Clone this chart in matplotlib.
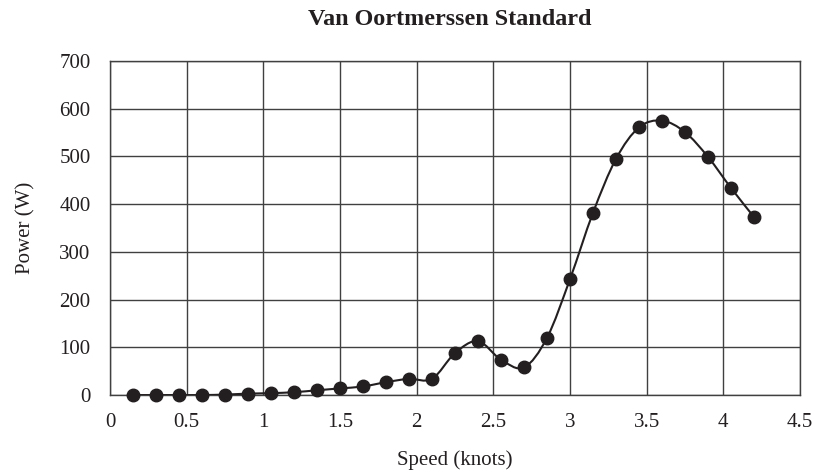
import numpy as np
import matplotlib.pyplot as plt
from matplotlib.path import Path
from matplotlib.patches import PathPatch

speed = [0.15, 0.30, 0.45, 0.60, 0.75, 0.90, 1.05, 1.20, 1.35, 1.50,
         1.65, 1.80, 1.95, 2.10, 2.25, 2.40, 2.55, 2.70, 2.85, 3.00,
         3.15, 3.30, 3.45, 3.60, 3.75, 3.90, 4.05, 4.20]
power = [0, 0, 0, 0, 1, 3, 4, 6, 10, 14,
         18, 27, 34, 34, 88, 113, 74, 58, 120, 243,
         382, 495, 561, 575, 551, 499, 434, 373]

x_ticks = [0, 0.5, 1, 1.5, 2, 2.5, 3, 3.5, 4, 4.5]
x_labels = ["0", "0.5", "1", "1.5", "2", "2.5", "3", "3.5", "4", "4.5"]
y_ticks = [0, 100, 200, 300, 400, 500, 600, 700]

ink = "#231f20"
grid_col = "#404040"

plt.rcParams["font.family"] = ["Liberation Serif", "DejaVu Serif"]

fig = plt.figure(figsize=(8.15, 4.72), dpi=100)
ax = fig.add_axes([0.135, 0.163, 0.8466, 0.7077])


def smooth_path(xs, ys):
    # Excel-style smoothed line: cubic Bezier segments, Catmull-Rom control points
    pts = np.column_stack([xs, ys]).astype(float)
    n = len(pts)
    verts = [pts[0]]
    codes = [Path.MOVETO]
    for i in range(n - 1):
        p0 = pts[i - 1] if i > 0 else pts[i]
        p1 = pts[i]
        p2 = pts[i + 1]
        p3 = pts[i + 2] if i + 2 < n else pts[i + 1]
        c1 = p1 + (p2 - p0) / 6.0
        c2 = p2 - (p3 - p1) / 6.0
        verts += [c1, c2, p2]
        codes += [Path.CURVE4] * 3
    return Path(verts, codes)


ax.add_patch(PathPatch(smooth_path(speed, power), facecolor="none",
                       edgecolor=ink, linewidth=1.5, zorder=3))
ax.plot(speed, power, linestyle="none", marker="o", markersize=9,
        color=ink, zorder=4, clip_on=False)

ax.set_xlim(0, 4.5)
ax.set_ylim(0, 700)
ax.set_xticks(x_ticks)
ax.set_xticklabels(x_labels)
ax.set_yticks(y_ticks)
ax.grid(True, color=grid_col, linewidth=1.0)
ax.set_axisbelow(True)
for s in ax.spines.values():
    s.set_color(grid_col)
    s.set_linewidth(1.0)
ax.tick_params(length=0, labelsize=15, colors=ink)
ax.tick_params(axis="x", pad=13)
ax.tick_params(axis="y", pad=14)

ax.set_title("Van Oortmerssen Standard", fontsize=17.4, fontweight="bold",
             color=ink, pad=26, x=0.493)
ax.set_xlabel("Speed (knots)", fontsize=15, color=ink, labelpad=13)
ax.set_ylabel("Power (W)", fontsize=15, color=ink, labelpad=17)

fig.savefig("out.png", dpi=100)
